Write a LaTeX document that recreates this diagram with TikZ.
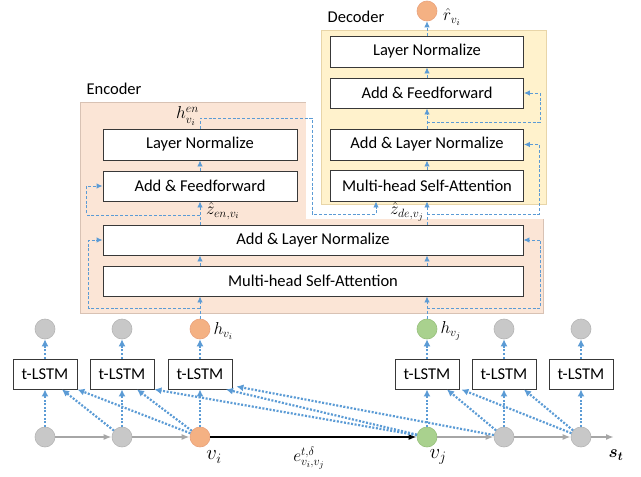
\documentclass[tikz,border=0pt]{standalone}
\usepackage{amsmath}
\usepackage{fontspec}
\setmainfont{Carlito}
\usetikzlibrary{arrows.meta,calc}
\definecolor{encbg}{HTML}{FBE5D6}
\definecolor{encbd}{HTML}{D8C2B4}
\definecolor{decbg}{HTML}{FFF2CC}
\definecolor{decbd}{HTML}{E8D5A8}
\definecolor{arrblue}{HTML}{5B9BD5}
\definecolor{orangec}{HTML}{F4B183}
\definecolor{orangebd}{HTML}{E9A27C}
\definecolor{greenc}{HTML}{A9D18E}
\definecolor{greenbd}{HTML}{97C07C}
\definecolor{greyc}{HTML}{C8C8C8}
\definecolor{greybd}{HTML}{B5B5B5}
\definecolor{harr}{HTML}{A6A6A6}
\begin{document}
\begin{tikzpicture}[x=1pt,y=-1pt,
  box/.style={draw=black!78, line width=0.9pt, fill=white, minimum height=30pt, inner sep=0pt, font=\fontsize{16.5}{18}\selectfont},
  lstm/.style={box, minimum width=64pt},
  dotn/.style={circle, minimum size=20pt, inner sep=0pt, line width=0.6pt},
  gdot/.style={dotn, fill=greyc, draw=greybd},
  odot/.style={dotn, fill=orangec, draw=orangebd},
  edot/.style={dotn, fill=greenc, draw=greenbd},
  dsh/.style={draw=arrblue, line width=0.9pt, dash pattern=on 3pt off 1.8pt, -{Latex[length=6pt,width=5.5pt]}},
  dotarr/.style={draw=arrblue, line width=2.2pt, dash pattern=on 2pt off 1.6pt, -{Latex[length=7pt,width=7pt]}},
  garr/.style={draw=harr, line width=1.6pt, -{Latex[length=8pt,width=6pt]}},
  barr/.style={draw=black, line width=2pt, -{Latex[length=8pt,width=6pt]}},
  lab/.style={font=\fontsize{16.5}{18}\selectfont, inner sep=0pt},
  mlab/.style={font=\fontsize{18}{20}\selectfont, inner sep=0pt},
  vlab/.style={font=\fontsize{21}{23}\selectfont, inner sep=0pt},
]
\useasboundingbox (0,0) rectangle (641,477);
% backgrounds
\filldraw[fill=encbg, draw=encbd, line width=0.6pt] (80,102) rectangle (543,313);
\fill[white] (306,90) rectangle (548,219);
\filldraw[fill=decbg, draw=decbd, line width=0.6pt] (321,30) rectangle (546,204);
\node[lab] (enclab) at (114,89) {Encoder};
\node[lab] (declab) at (356,17) {Decoder};

% encoder boxes
\node[box, minimum width=194pt, minimum height=31pt] (eLN) at (200,144.5) {Layer Normalize};
\node[box, minimum width=194pt] (eFF) at (200,186) {Add \& Feedforward};
\node[box, minimum width=420pt] (eALN) at (313,240) {Add \& Layer Normalize};
\node[box, minimum width=420pt] (eMH) at (313,281) {Multi-head Self-Attention};
% decoder boxes
\node[box, minimum width=193pt, minimum height=31pt] (dLN) at (427,51.5) {Layer Normalize};
\node[box, minimum width=193pt] (dFF) at (427,93) {Add \& Feedforward};
\node[box, minimum width=193pt, minimum height=31pt] (dALN) at (427,144.5) {Add \& Layer Normalize};
\node[box, minimum width=193pt, minimum height=31pt] (dMH) at (427,185.5) {Multi-head Self-Attention};
\node[odot] (out) at (427,11) {};
\node[mlab, anchor=west] (rlab) at (443,17) {$\hat{r}_{v_i}$};

% bottom row
\foreach \i/\x/\s in {1/45/gdot,2/122/gdot,3/200/odot,4/427/edot,5/504/gdot,6/581/gdot}{
  \node[\s] (c\i) at (\x,437) {};
  \node[lstm] (L\i) at (\x,374) {t-LSTM};
  \node[\s] (t\i) at (\x,329) {};
}
\coordinate (send) at (614,437);
\node[mlab, anchor=west] (hvi) at ($(t3.east)+(3,2)$) {$h_{v_i}$};
\node[mlab, anchor=west] (hvj) at ($(t4.east)+(3,2)$) {$h_{v_j}$};
\node[vlab] (vi) at (214,457) {$v_i$};
\node[vlab] (vj) at (438,457) {$v_j$};
\node[mlab] (elab) at (309,458) {$e^{t,\delta}_{v_i,v_j}$};
\node[mlab] (st) at (616,455) {$\boldsymbol{s}_{\boldsymbol{t}}$};

% horizontal arrows
\draw[garr] (c1) -- (c2);
\draw[garr] (c2) -- (c3);
\draw[barr] (c3) -- (c4);
\draw[garr] (c4) -- (c5);
\draw[garr] (c5) -- (c6);
\draw[garr] (c6) -- (send);

% vertical dotted arrows
\foreach \i in {1,...,6}{
  \draw[dotarr] (c\i) -- (L\i);
  \draw[dotarr] (L\i) -- (t\i);
}
% diagonal dotted arrows
\draw[dotarr] (c2) -- ($(L1.south)+(17,0)$);
\draw[dotarr] (c3) -- (L1.south east);
\draw[dotarr] (c3) -- ($(L2.south)+(15,0)$);
\draw[dotarr] (c4) -- (L2.south east);
\draw[dotarr] (c4) -- ($(L3.south)+(26,0)$);
\draw[dotarr] (c5) -- ($(L3.south east)+(4,-3)$);
\draw[dotarr] (c5) -- ($(L4.south)+(20,0)$);
\draw[dotarr] (c6) -- ($(L4.south east)+(2,0)$);
\draw[dotarr] (c6) -- ($(L5.south)+(20,0)$);

% encoder flow
\coordinate (b1) at (200,308);
\coordinate (b2) at (427,308);
\draw[dsh] (t3) -- (eMH.south -| t3);
\draw[dsh] (t4) -- (eMH.south -| t4);
\draw[dsh] (b1) -| ($(eALN.west)+(-14,0)$) -- (eALN.west);
\draw[dsh] (b2) -| ($(eALN.east)+(17,0)$) -- (eALN.east);
\draw[dsh] (eMH.north -| t3) -- (eALN.south -| t3);
\draw[dsh] (eMH.north -| t4) -- (eALN.south -| t4);
\draw[dsh] (eALN.north -| eFF) -- (eFF.south);
\coordinate (b3) at (200,215);
\draw[dsh] (b3) -| ($(eFF.west)+(-16,0)$) -- (eFF.west);
\node[mlab, anchor=west] (zen) at (206,211) {$\hat{z}_{en,v_i}$};
\draw[dsh] (eFF) -- (eLN);
\node[mlab, anchor=east] (hen) at (199,116) {$h^{en}_{v_i}$};
\coordinate (k1) at (312,118);
\coordinate (k2) at (376,214);
\draw[dsh] (eLN.north) |- (k1) |- (k2) -- (dMH.south -| k2);

% decoder flow
\draw[dsh] (eALN.north -| dMH) -- (dMH.south);
\coordinate (b4) at (427,214);
\draw[dsh] (b4) -| ($(dALN.east)+(15,0)$) -- (dALN.east);
\node[mlab, anchor=east] (zde) at (424,212) {$\hat{z}_{de,v_j}$};
\draw[dsh] (dMH) -- (dALN);
\draw[dsh] (dALN) -- (dFF);
\coordinate (b5) at (427,122);
\draw[dsh] (b5) -| ($(dFF.east)+(16,0)$) -- (dFF.east);
\draw[dsh] (dFF) -- (dLN);
\draw[dsh] (dLN) -- (out);
\end{tikzpicture}
\end{document}
